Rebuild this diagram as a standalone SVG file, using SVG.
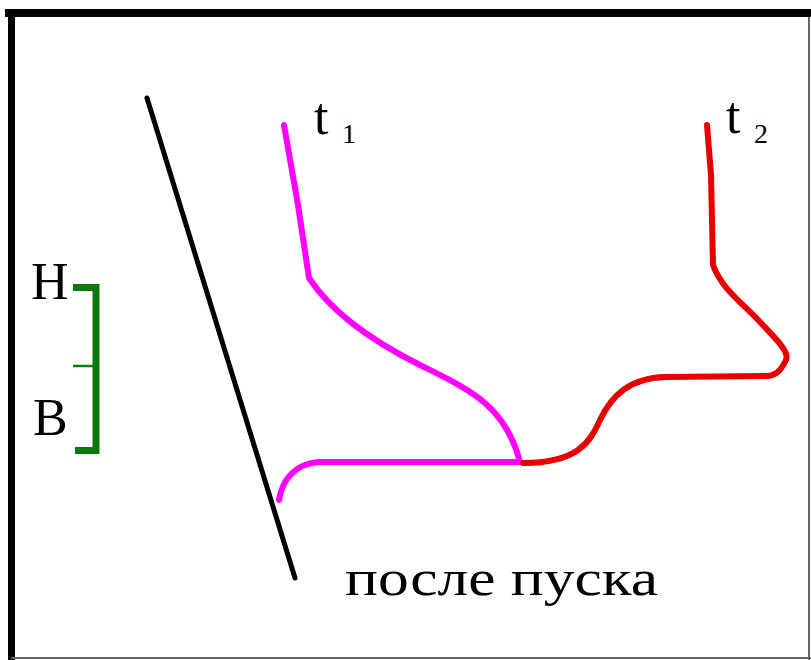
<svg xmlns="http://www.w3.org/2000/svg" width="811" height="660" viewBox="0 0 811 660">
<style>
.lbl{font-family:"Liberation Serif","Times New Roman",serif;fill:#000}
.curve{fill:none;stroke-linecap:round;stroke-linejoin:round}
</style>
<rect width="811" height="660" fill="#fff"/>
<g id="frame">
<line x1="5" y1="13" x2="811" y2="13" stroke="#000" stroke-width="8"/>
<line x1="11.5" y1="9" x2="11.5" y2="660" stroke="#000" stroke-width="7"/>
<line x1="809" y1="17" x2="809" y2="660" stroke="#666" stroke-width="2"/>
<line x1="11" y1="658" x2="811" y2="658" stroke="#666" stroke-width="2"/>
</g>
<g id="wall">
<line x1="147" y1="98" x2="295" y2="578" stroke="#000" stroke-width="5" stroke-linecap="round"/>
</g>
<g id="curve-t1">
<path class="curve" stroke="#FF00FF" stroke-width="6" d="M284,125 L298,205 L309,278 C330,310 370,340 420,365 C470,390 505,405 520,462 L318,462 C295,464 282,480 279,500"/>
</g>
<g id="curve-t2">
<path class="curve" stroke="#E80000" stroke-width="6" d="M707,125 L711,175 L713,265 C722,290 745,305 760,322 C775,338 790,352 786,360 C782,368 778,375 768,376 L665,377 C630,378 612,395 600,420 C590,442 578,463 523,463"/>
</g>
<g id="bracket">
<path d="M73,287.5 H96 V450.5 H75" fill="none" stroke="#0B7A0B" stroke-width="7"/>
<line x1="73" y1="366" x2="93" y2="366" stroke="#0B7A0B" stroke-width="2.5"/>
</g>
<g id="labels">
<text class="lbl" x="314" y="134" font-size="52">t</text>
<text class="lbl" x="342" y="143" font-size="28">1</text>
<text class="lbl" x="726" y="133" font-size="52">t</text>
<text class="lbl" x="754" y="143" font-size="28">2</text>
<text class="lbl" x="31" y="299" font-size="52">Н</text>
<text class="lbl" x="33" y="435" font-size="52">В</text>
<text class="lbl" x="345" y="595" font-size="50" textLength="313" lengthAdjust="spacingAndGlyphs">после пуска</text>
</g>
</svg>
